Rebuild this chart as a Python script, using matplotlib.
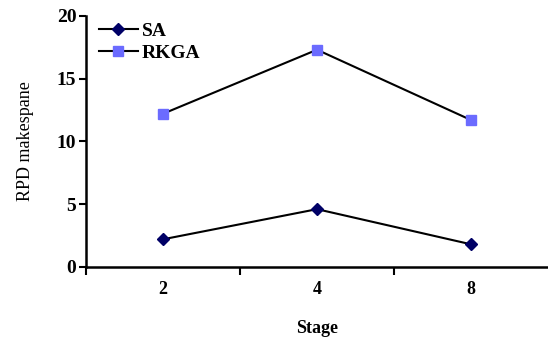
import matplotlib.pyplot as plt
import numpy as np

# data
stages = ["2", "4", "8"]
sa = [2.2, 4.6, 1.8]
rkga = [12.2, 17.3, 11.7]

plt.rcParams.update({
    "font.family": "serif",
    "font.serif": ["Liberation Serif", "DejaVu Serif"],
    "font.size": 12,
})

fig = plt.figure(figsize=(5.48, 3.37), dpi=100)
ax = fig.add_axes([0.157, 0.208, 0.843, 0.745])

x = np.arange(len(stages))
ax.plot(x, sa, color="black", linewidth=1.5, marker="D", markersize=6.5,
        markerfacecolor="#000066", markeredgecolor="#000066", label="SA")
ax.plot(x, rkga, color="black", linewidth=1.5, marker="s", markersize=7,
        markerfacecolor="#6b6bff", markeredgecolor="#6b6bff", label="RKGA")

ax.set_xlim(-0.5, 2.5)
ax.set_ylim(0, 20)
ax.set_yticks([0, 5, 10, 15, 20])
ax.set_xticks(x)
ax.set_xticklabels(stages, fontweight="bold")
ax.set_xticks([-0.5, 0.5, 1.5], minor=True)
ax.tick_params(axis="x", which="major", length=0, pad=10, labelsize=13)
ax.tick_params(axis="x", which="minor", length=6, width=1.5)
ax.tick_params(axis="y", length=5, width=1.5, pad=2, labelsize=14)
for lab in ax.get_yticklabels():
    lab.set_fontweight("bold")

ax.spines["top"].set_visible(False)
ax.spines["right"].set_visible(False)
ax.spines["left"].set_linewidth(1.8)
ax.spines["bottom"].set_linewidth(1.8)

ax.set_xlabel("Stage", fontweight="bold", labelpad=16, fontsize=13)
ax.set_ylabel("RPD makespane", fontsize=13, labelpad=16)

ax.legend(loc="upper left", bbox_to_anchor=(-0.01, 1.045), frameon=False,
          handlelength=2.0, handletextpad=0.2, labelspacing=0.25,
          prop={"family": "serif", "weight": "bold", "size": 14})

fig.savefig("out.png", dpi=100)
